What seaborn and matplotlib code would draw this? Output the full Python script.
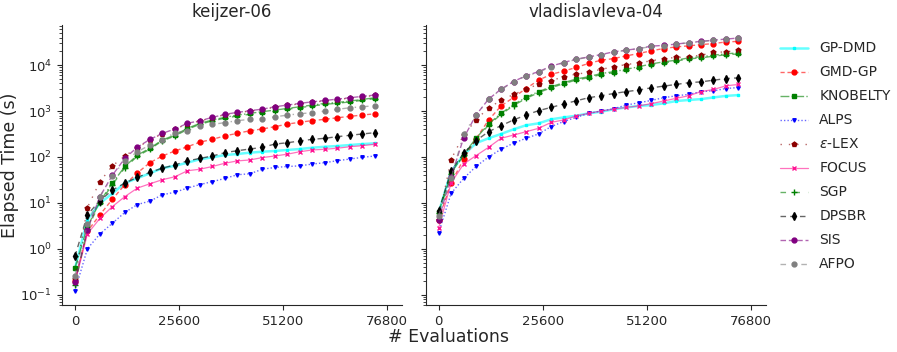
import matplotlib
matplotlib.use("Agg")
import matplotlib.pyplot as plt
import matplotlib.colors as mcolors
import seaborn as sns

# Evaluations at which elapsed time was recorded
evals = [0, 3072, 6144, 9216, 12288, 15360, 18432, 21504, 24576, 27648, 30720, 33792, 36864,
         39936, 43008, 46080, 49152, 52224, 55296, 58368, 61440, 64512, 67584, 70656, 73728]

methods = ["GP-DMD", "GMD-GP", "KNOBELTY", "ALPS", r"$\epsilon$-LEX",
           "FOCUS", "SGP", "DPSBR", "SIS", "AFPO"]

# keijzer-06 elapsed time (s)
k_gpdmd = [0.37, 4.3, 9.8, 16, 27, 34.5, 44, 57, 64, 75, 89, 98, 110, 116, 124, 130, 135, 142, 149, 159, 167, 173, 182, 191, 198]
k_gmdgp = [0.2, 2.4, 5.5, 12, 25, 45, 75, 105, 135, 167, 210, 242, 288, 327, 373, 407, 457, 520, 570, 620, 660, 715, 765, 820, 870]
k_knobelty = [0.38, 3.0, 10.7, 27, 62, 110, 155, 235, 300, 420, 540, 640, 730, 815, 890, 970, 1050, 1140, 1240, 1350, 1470, 1540, 1650, 1790, 1950]
k_alps = [0.12, 1.0, 2.1, 3.6, 6.2, 9.2, 10.9, 15, 17, 21, 25, 29, 34, 41, 43, 54, 59, 62, 64, 70, 75, 83, 90, 98, 105]
k_elex = [0.22, 7.9, 29, 64, 105, 160, 236, 320, 400, 530, 605, 712, 833, 916, 1000, 1078, 1215, 1323, 1440, 1558, 1666, 1784, 1911, 2048, 2185]
k_focus = [0.18, 2.1, 4.6, 8.3, 13.7, 21, 26, 32, 37, 50, 54, 62, 73, 82, 86, 97, 105, 115, 130, 142, 147, 155, 167, 176, 189]
k_sgp = [0.16, 2.7, 10, 25, 58, 104, 148, 225, 285, 400, 515, 610, 700, 780, 850, 930, 1000, 1090, 1190, 1290, 1400, 1480, 1580, 1710, 1870]
k_dpsbr = [0.68, 5.5, 11.2, 19, 27, 36, 46, 57, 67, 82, 93, 105, 124, 137, 149, 162, 191, 204, 223, 242, 255, 277, 296, 317, 338]
k_sis = [0.19, 2.6, 13.7, 40, 94, 163, 241, 327, 407, 540, 617, 727, 850, 935, 1020, 1100, 1240, 1350, 1470, 1590, 1700, 1820, 1950, 2090, 2230]
k_afpo = [0.26, 3.5, 13.7, 39, 83, 130, 182, 235, 338, 370, 470, 512, 560, 617, 660, 670, 750, 815, 875, 920, 1000, 1090, 1180, 1240, 1310]

# vladislavleva-04 elapsed time (s)
v_gpdmd = [6.0, 48, 110, 200, 255, 317, 400, 490, 540, 660, 727, 790, 890, 970, 1090, 1200, 1290, 1350, 1470, 1650, 1740, 1820, 1980, 2140, 2230]
v_gmdgp = [4.3, 27, 89, 250, 635, 1290, 1980, 3100, 4700, 6300, 7400, 8900, 10900, 12800, 13900, 15900, 17900, 20500, 23000, 25000, 26300, 28000, 29600, 32000, 33000]
v_knobelty = [6.2, 44, 114, 255, 522, 890, 1390, 1980, 2650, 3380, 4150, 4980, 5600, 6570, 7200, 8100, 9200, 10600, 11800, 12800, 14400, 15200, 16500, 17700, 18500]
v_alps = [2.2, 16, 34, 62, 100, 147, 200, 255, 317, 457, 590, 727, 890, 1000, 1120, 1350, 1510, 1700, 1950, 2150, 2300, 2650, 2760, 3100, 3250]
v_elex = [4.3, 88, 300, 640, 1180, 1700, 2300, 3000, 3850, 4570, 5600, 6350, 6950, 8100, 9200, 10300, 11200, 12400, 13900, 14700, 15200, 16500, 18900, 19500, 21200]
v_focus = [2.8, 27, 70, 107, 162, 255, 300, 355, 420, 565, 640, 780, 890, 1000, 1100, 1200, 1290, 1450, 1650, 1890, 2150, 2650, 2950, 3550, 3800]
v_sgp = [5.9, 42, 108, 242, 495, 845, 1320, 1880, 2520, 3210, 3940, 4730, 5320, 6240, 6840, 7700, 8740, 10100, 11200, 12200, 13700, 14400, 15700, 16800, 17600]
v_dpsbr = [6.5, 50, 120, 227, 355, 480, 640, 820, 1020, 1200, 1420, 1670, 1950, 2150, 2410, 2650, 2870, 3200, 3490, 3800, 4150, 4330, 4700, 5100, 5300]
v_sis = [4.3, 37, 256, 820, 1820, 3000, 4400, 5900, 7200, 9500, 11400, 13500, 15100, 17000, 19500, 21200, 23000, 25900, 27000, 28700, 31000, 33000, 35000, 37000, 39000]
v_afpo = [5.2, 34, 316, 815, 1800, 2950, 4300, 5800, 7000, 9300, 11200, 13300, 14900, 16800, 19200, 21000, 22800, 25500, 26700, 28400, 30700, 32700, 34700, 36700, 38500]

keijzer = [k_gpdmd, k_gmdgp, k_knobelty, k_alps, k_elex, k_focus, k_sgp, k_dpsbr, k_sis, k_afpo]
vlad = [v_gpdmd, v_gmdgp, v_knobelty, v_alps, v_elex, v_focus, v_sgp, v_dpsbr, v_sis, v_afpo]

# color, linestyle, marker, markersize, linewidth
styles = [
    ("cyan", "-", "s", 2.0, 1.8),
    ("red", (0, (3, 2)), "o", 3.5, 1.0),
    ("green", "-.", "s", 3.5, 1.0),
    ("blue", (0, (1, 1.5)), "v", 2.5, 1.0),
    ("darkred", (0, (1, 5)), "p", 3.5, 1.0),
    ("deeppink", "-", "x", 3.5, 0.9),
    ("green", (0, (4, 6)), "+", 4, 1.0),
    ("black", (0, (4, 3)), "d", 4, 1.0),
    ("purple", (0, (4, 2)), "o", 3.5, 1.0),
    ("gray", (0, (4, 5, 1, 5)), "o", 3.5, 1.0),
]

sns.set_style("ticks")
plt.rcParams["font.family"] = ["DejaVu Sans"]

fig, axes = plt.subplots(1, 2, figsize=(8.97, 3.52), dpi=100, sharey=True)

for ax, title, data in zip(axes, ["keijzer-06", "vladislavleva-04"], [keijzer, vlad]):
    for name, vals, (c, ls, mk, ms, lw) in zip(methods, data, styles):
        rgb = mcolors.to_rgb(c)
        sns.lineplot(x=evals, y=vals, ax=ax, label=name,
                     color=(*rgb, 0.6), linestyle=ls, linewidth=lw,
                     marker=mk, markersize=ms,
                     markerfacecolor=rgb, markeredgecolor=rgb, markeredgewidth=1.0)
    ax.set_yscale("log")
    ax.set_title(title, fontsize=12)
    ax.set_xticks([0, 25600, 51200, 76800])
    ax.set_xlim(-3200, 80500)
    ax.set_xlabel("")
    ax.tick_params(labelsize=9.5)
    ax.get_legend().remove()
    sns.despine(ax=ax)

axes[0].set_ylim(0.06, 7.5e4)
axes[0].set_ylabel("Elapsed Time (s)", fontsize=12.5, labelpad=1)

fig.subplots_adjust(left=0.069, right=0.854, top=0.929, bottom=0.134, wspace=0.068)
fig.text(0.5, 0.028, "# Evaluations", ha="center", fontsize=12.5)

handles, labels = axes[0].get_legend_handles_labels()
fig.legend(handles, labels, loc="upper left", bbox_to_anchor=(0.856, 0.918),
           frameon=False, fontsize=10, labelspacing=0.72, handlelength=2.0)

fig.savefig("out.png", dpi=100)
